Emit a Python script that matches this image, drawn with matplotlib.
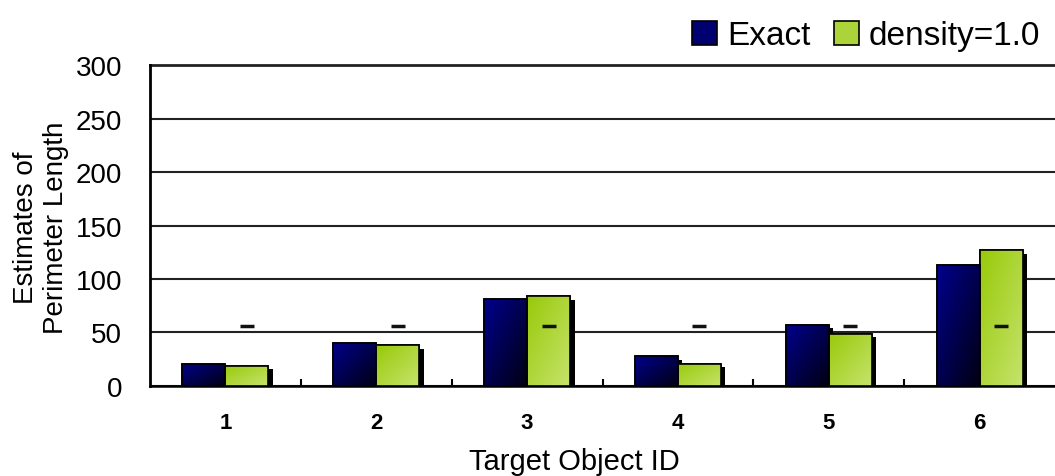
import numpy as np
import matplotlib.pyplot as plt
import matplotlib.patheffects as pe
from matplotlib.colors import LinearSegmentedColormap
from matplotlib.patches import Patch

ids = ['1', '2', '3', '4', '5', '6']
exact = [21, 40, 81, 28, 57, 113]
density = [19, 38, 84, 21, 49, 127]
marks = [56, 56, 56, 56, 56, 56]

plt.rcParams['font.family'] = ['Liberation Sans', 'DejaVu Sans']

fig = plt.figure(figsize=(10.55, 4.77), dpi=100)
ax = fig.add_axes([0.1422, 0.1887, 0.8578, 0.6729])

x = np.arange(len(ids))
w = 0.285

navy = LinearSegmentedColormap.from_list('navy', ['#00008c', '#000012'])
lime = LinearSegmentedColormap.from_list('lime', ['#98ca0a', '#c6e36c'])

gy, gx = np.mgrid[0:1:60j, 0:1:60j]
grad = (gx + gy) / 2


def grad_bars(xs, vals, cmap):
    bars = ax.bar(xs, vals, w, color=cmap(0.5), edgecolor='black', linewidth=1.2, zorder=3,
                  path_effects=[pe.SimplePatchShadow(offset=(3.2, -2.5), shadow_rgbFace='black', alpha=1.0),
                                pe.Normal()])
    for b in bars:
        x0, h = b.get_x(), b.get_height()
        im = ax.imshow(grad, cmap=cmap, vmin=0, vmax=1, extent=(x0, x0 + w, 0, h),
                       origin='upper', aspect='auto', zorder=3.1, interpolation='bilinear')
        im.set_clip_path(b)
    ax.bar(xs, vals, w, fill=False, edgecolor='black', linewidth=1.2, zorder=3.2)


grad_bars(x - w / 2, exact, navy)
grad_bars(x + w / 2, density, lime)

ax.plot(x + w / 2, marks, ls='none', marker='_', ms=10, mew=2.5, color='#111111', zorder=5)

ax.set_xlim(-0.5, 5.5)
ax.set_ylim(0, 300)
ax.set_yticks(np.arange(0, 301, 50))
ax.set_xticks(x)
ax.set_xticklabels(ids, fontsize=16, fontweight='bold')
ax.set_xticks(x[:-1] + 0.5, minor=True)
ax.tick_params(axis='x', which='major', length=0, pad=19)
ax.tick_params(axis='x', which='minor', direction='in', length=5, width=1.5, color='black')
ax.tick_params(axis='y', length=0, pad=20, labelsize=20)

ax.yaxis.grid(True, color='#222222', lw=1.5)
ax.set_axisbelow(True)
for s in ['top', 'right']:
    ax.spines[s].set_visible(False)
ax.spines['left'].set_linewidth(2)
ax.spines['bottom'].set_linewidth(1.8)
ax.axhline(300, color='#222222', lw=2, clip_on=False, zorder=2)

fig.text(0.039, 0.522, 'Estimates of\nPerimeter Length', rotation=90, ha='center', va='center',
         fontsize=20, linespacing=1.2)
fig.text(0.544, 0.032, 'Target Object ID', ha='center', va='center', fontsize=21)

handles = [Patch(facecolor='#000070', edgecolor='black', lw=1.2),
           Patch(facecolor='#aad43a', edgecolor='black', lw=1.2)]
fig.legend(handles, ['Exact', 'density=1.0'], loc='upper right', bbox_to_anchor=(1.005, 0.997),
           ncol=2, frameon=False, fontsize=24, handlelength=0.75, handleheight=0.75,
           handletextpad=0.3, columnspacing=0.7, borderaxespad=0.2)

fig.savefig('out.png', dpi=100)
